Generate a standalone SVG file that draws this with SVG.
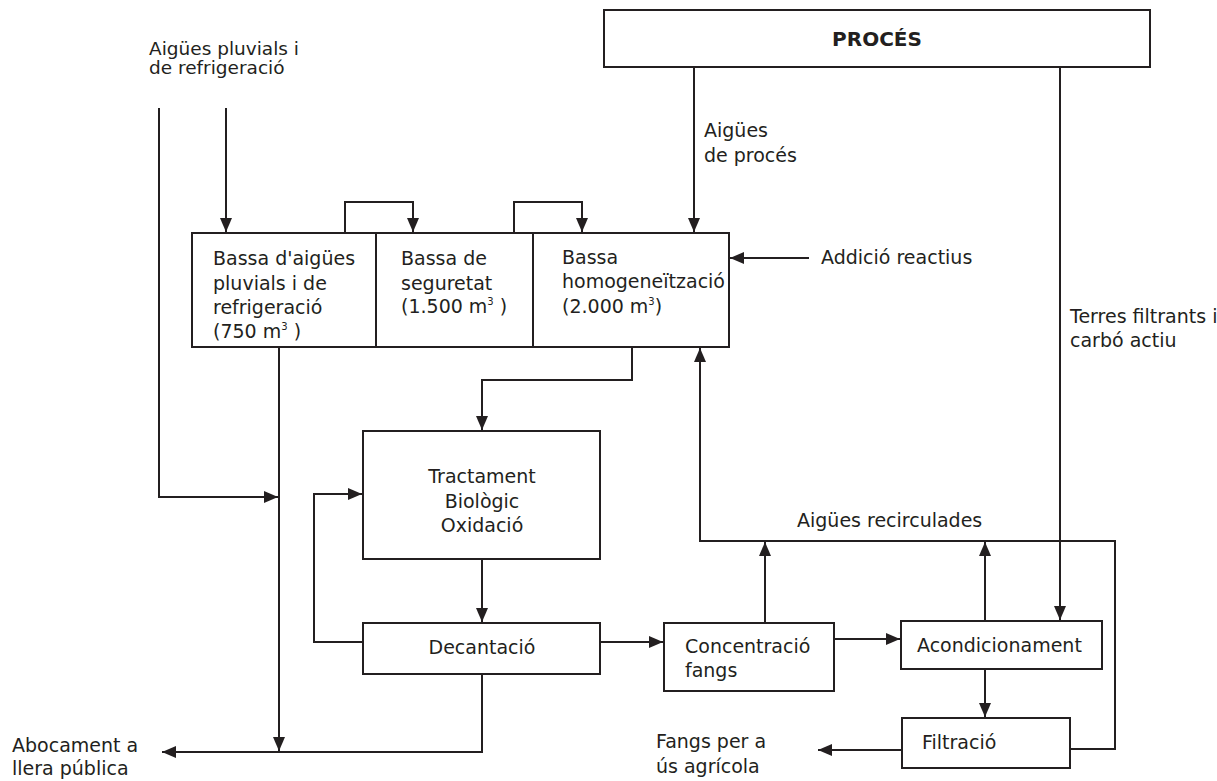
<svg xmlns="http://www.w3.org/2000/svg" width="1217" height="781" viewBox="0 0 1217 781">
<defs>
<marker id="ah" markerWidth="14" markerHeight="12" refX="14" refY="6" orient="auto" markerUnits="userSpaceOnUse">
<path d="M0,0 L14,6 L0,12 Z" fill="#231f20"/>
</marker>
<style>
.box{fill:#fff;stroke:#231f20;stroke-width:2}
.ln{fill:none;stroke:#231f20;stroke-width:2}
.arr{fill:none;stroke:#231f20;stroke-width:2;marker-end:url(#ah)}
text{font-family:"DejaVu Sans","Liberation Sans",sans-serif;font-size:19px;fill:#231f20}
.c{text-anchor:middle}
.b{font-weight:bold;font-size:20px}
.s{font-size:18.5px}
.sup{font-size:10px}
</style>
</defs>
<rect width="1217" height="781" fill="#fff"/>
<g id="connectors">
<polyline class="arr" points="159,108 159,497 278,497"/>
<polyline class="arr" points="226,108 226,232"/>
<polyline class="arr" points="345,233 345,202 413,202 413,232"/>
<polyline class="arr" points="514,233 514,202 582,202 582,232"/>
<polyline class="arr" points="694,67 694,232"/>
<polyline class="arr" points="1060,67 1060,620"/>
<polyline class="arr" points="809,258 730,258"/>
<polyline class="arr" points="279,347 279,751"/>
<polyline class="arr" points="632,347 632,380 482,380 482,430"/>
<polyline class="arr" points="482,559 482,622"/>
<polyline class="arr" points="363,642 314,642 314,494 362,494"/>
<polyline class="arr" points="482,674 482,752 162,752"/>
<polyline class="arr" points="600,642 663,642"/>
<polyline class="arr" points="834,639 900,639"/>
<polyline class="arr" points="765,623 765,542"/>
<polyline class="arr" points="985,621 985,542"/>
<polyline class="arr" points="985,669 985,717"/>
<polyline class="arr" points="902,750 818,750"/>
<polyline class="arr" points="1070,749 1115,749 1115,541 700,541 700,348"/>
</g>
<g id="labels">
<text class="s" x="149" y="55">Aigües pluvials i</text>
<text class="s" x="149" y="74">de refrigeració</text>
<text x="704" y="137">Aigües</text>
<text x="704" y="162">de procés</text>
<text x="821" y="264">Addició reactius</text>
<text x="1070" y="323">Terres filtrants i</text>
<text x="1070" y="347">carbó actiu</text>
<text x="797" y="527">Aigües recirculades</text>
<text x="656" y="748">Fangs per a</text>
<text x="656" y="773">ús agrícola</text>
<text x="12" y="752">Abocament a</text>
<text x="12" y="775">llera pública</text>
</g>
<g id="proces">
<rect class="box" x="604" y="10" width="546" height="57"/>
<text class="c b" x="877" y="46">PROCÉS</text>
</g>
<g id="bassa-pluvials">
<rect class="box" x="192" y="233" width="184" height="114"/>
<text x="213" y="265">Bassa d'aigües</text>
<text x="213" y="290">pluvials i de</text>
<text x="213" y="314">refrigeració</text>
<text x="213" y="338">(750 m<tspan class="sup" dy="-8">3</tspan><tspan dy="8"> )</tspan></text>
</g>
<g id="bassa-seguretat">
<rect class="box" x="376" y="233" width="157" height="114"/>
<text x="401" y="265">Bassa de</text>
<text x="401" y="290">seguretat</text>
<text x="401" y="313">(1.500 m<tspan class="sup" dy="-8">3</tspan><tspan dy="8"> )</tspan></text>
</g>
<g id="bassa-homogeneitzacio">
<rect class="box" x="533" y="233" width="196" height="114"/>
<text x="562" y="264">Bassa</text>
<text x="562" y="288">homogeneïtzació</text>
<text x="562" y="313">(2.000 m<tspan class="sup" dy="-8">3</tspan><tspan dy="8">)</tspan></text>
</g>
<g id="tractament">
<rect class="box" x="363" y="431" width="237" height="128"/>
<text class="c" x="482" y="483">Tractament</text>
<text class="c" x="482" y="508">Biològic</text>
<text class="c" x="482" y="532">Oxidació</text>
</g>
<g id="decantacio">
<rect class="box" x="363" y="623" width="237" height="51"/>
<text class="c" x="482" y="654">Decantació</text>
</g>
<g id="concentracio">
<rect class="box" x="664" y="623" width="170" height="68"/>
<text x="685" y="653">Concentració</text>
<text x="685" y="677">fangs</text>
</g>
<g id="acondicionament">
<rect class="box" x="901" y="621" width="201" height="48"/>
<text x="917" y="652">Acondicionament</text>
</g>
<g id="filtracio">
<rect class="box" x="902" y="718" width="168" height="50"/>
<text x="922" y="749">Filtració</text>
</g>
</svg>
